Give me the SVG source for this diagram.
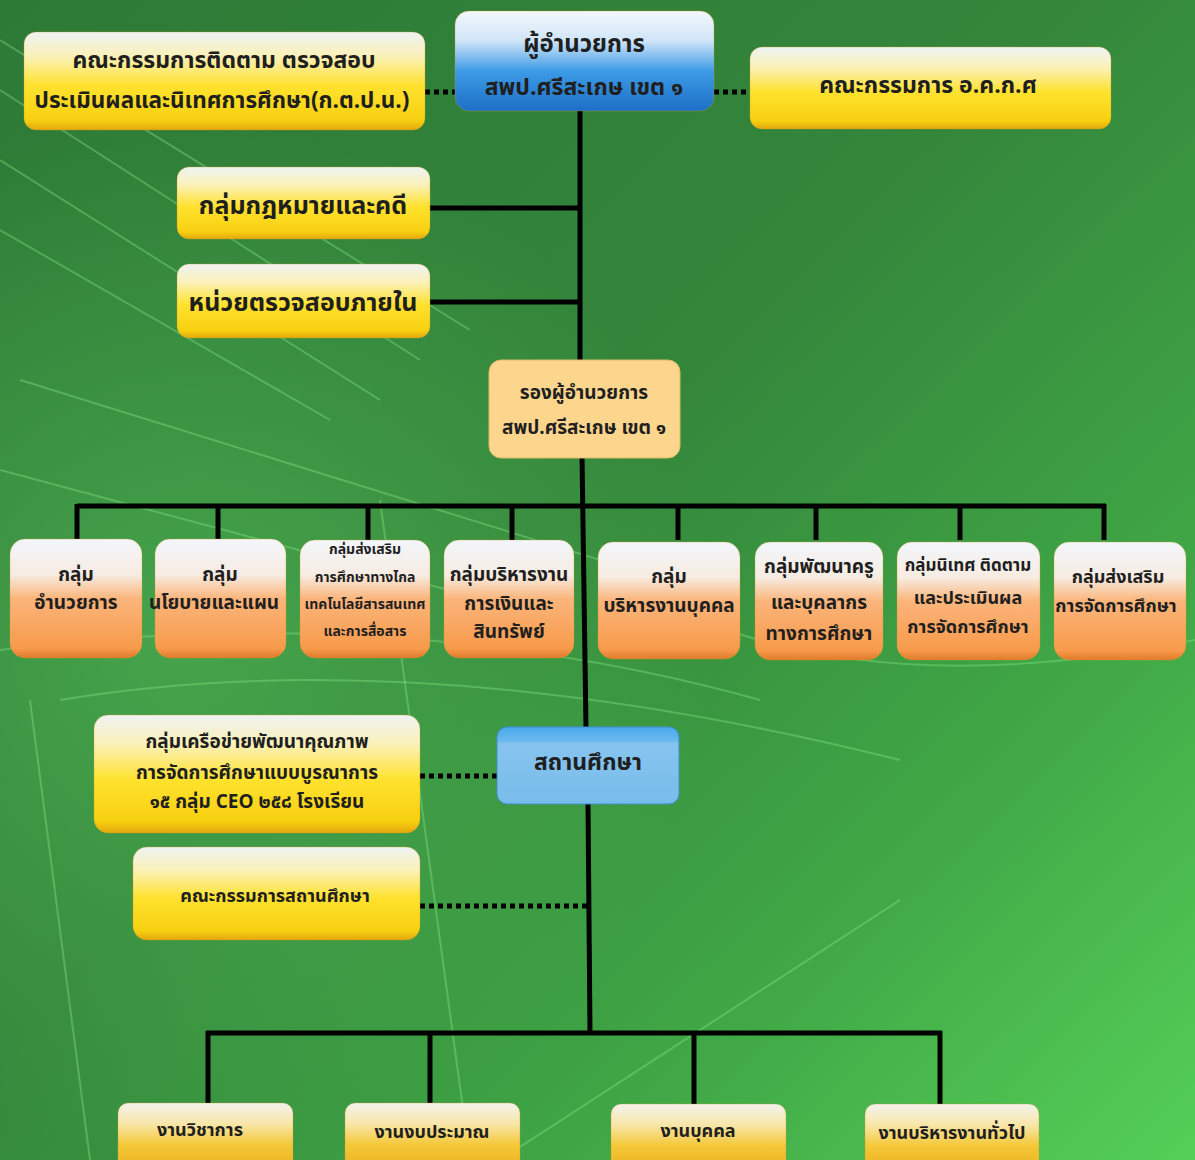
<svg xmlns="http://www.w3.org/2000/svg" width="1195" height="1160" viewBox="0 0 1195 1160">
<defs>
<linearGradient id="bg" x1="0" y1="0" x2="1" y2="1">
<stop offset="0" stop-color="#2d7a36"/>
<stop offset="0.45" stop-color="#34863b"/>
<stop offset="0.75" stop-color="#40a846"/>
<stop offset="1" stop-color="#55cf58"/>
</linearGradient>
<radialGradient id="glow" cx="0.15" cy="0.55" r="0.45">
<stop offset="0" stop-color="#6be06b" stop-opacity="0.35"/>
<stop offset="1" stop-color="#6be06b" stop-opacity="0"/>
</radialGradient>
<linearGradient id="gYellow" x1="0" y1="0" x2="0" y2="1">
<stop offset="0" stop-color="#eef3f4"/>
<stop offset="0.25" stop-color="#fbf1b8"/>
<stop offset="0.55" stop-color="#ffe22e"/>
<stop offset="0.9" stop-color="#f7d010"/>
<stop offset="1" stop-color="#e3a70e"/>
</linearGradient>
<linearGradient id="gBlue" x1="0" y1="0" x2="0" y2="1">
<stop offset="0" stop-color="#f4f8fc"/>
<stop offset="0.3" stop-color="#cfe5f8"/>
<stop offset="0.6" stop-color="#3d9be6"/>
<stop offset="1" stop-color="#1d6fc6"/>
</linearGradient>
<linearGradient id="gOrange" x1="0" y1="0" x2="0" y2="1">
<stop offset="0" stop-color="#f2f6fb"/>
<stop offset="0.3" stop-color="#f7ece2"/>
<stop offset="0.5" stop-color="#fbb57b"/>
<stop offset="0.92" stop-color="#f79a4a"/>
<stop offset="1" stop-color="#e07a2c"/>
</linearGradient>
<linearGradient id="gSchool" x1="0" y1="0" x2="0" y2="1">
<stop offset="0" stop-color="#49a9ec"/>
<stop offset="0.18" stop-color="#6ab8ee"/>
<stop offset="0.22" stop-color="#86c4ef"/>
<stop offset="1" stop-color="#78bce9"/>
</linearGradient>
<linearGradient id="gWork" x1="0" y1="0" x2="0" y2="1">
<stop offset="0" stop-color="#f3f3ee"/>
<stop offset="0.3" stop-color="#f8e6a8"/>
<stop offset="0.6" stop-color="#f4c838"/>
<stop offset="1" stop-color="#e9ac1c"/>
</linearGradient>
<style>
.t{font-family:"Noto Sans Thai","Noto Sans","DejaVu Sans",sans-serif;font-weight:bold;fill:#1f1f1f;text-anchor:middle;dominant-baseline:central}
.box{stroke:#c99a2a;stroke-opacity:0.35;stroke-width:1}
.ln{stroke:#000;stroke-width:5;fill:none}
.dt{stroke:#000;stroke-width:5;fill:none;stroke-dasharray:5 4}
.streak{stroke:#8cf08c;fill:none;stroke-opacity:0.35;stroke-width:2}
</style>
</defs>
<rect x="0" y="0" width="1195" height="1160" fill="url(#bg)"/>
<rect x="0" y="0" width="1195" height="1160" fill="url(#glow)"/>
<g id="background-streaks">
<path class="streak" d="M0 40 L470 330"/>
<path class="streak" d="M0 90 L420 360"/>
<path class="streak" d="M0 160 L380 400"/>
<path class="streak" d="M0 230 L330 420" stroke-width="8" stroke-opacity="0.15"/>
<path class="streak" d="M20 380 L600 560"/>
<path class="streak" d="M0 470 L560 620"/>
<path class="streak" d="M0 650 Q400 600 760 700" stroke-width="6" stroke-opacity="0.25"/>
<path class="streak" d="M60 700 Q420 640 900 760" stroke-width="3"/>
<path class="streak" d="M30 700 L90 1160"/>
<path class="streak" d="M380 500 L470 1160" stroke-opacity="0.2"/>
<path class="streak" d="M500 1160 L900 900" stroke-width="30" stroke-opacity="0.12"/>
<path class="streak" d="M700 620 Q900 700 1195 640" stroke-width="2" stroke-opacity="0.25"/>
</g>
<g id="connectors">
<line class="ln" x1="580" y1="110" x2="580" y2="362"/>
<line class="ln" x1="429" y1="208" x2="580" y2="208"/>
<line class="ln" x1="429" y1="302" x2="580" y2="302"/>
<line class="dt" x1="425" y1="92" x2="455" y2="92"/>
<line class="dt" x1="714" y1="92" x2="750" y2="92"/>
<line class="ln" x1="582" y1="456" x2="586" y2="728"/>
<line class="ln" x1="77" y1="506" x2="1106" y2="506"/>
<line class="ln" x1="77" y1="504" x2="77" y2="540"/>
<line class="ln" x1="218" y1="504" x2="218" y2="540"/>
<line class="ln" x1="368" y1="504" x2="368" y2="540"/>
<line class="ln" x1="512" y1="504" x2="512" y2="540"/>
<line class="ln" x1="678" y1="504" x2="678" y2="540"/>
<line class="ln" x1="816" y1="504" x2="816" y2="540"/>
<line class="ln" x1="960" y1="504" x2="960" y2="540"/>
<line class="ln" x1="1104" y1="504" x2="1104" y2="540"/>
<line class="dt" x1="420" y1="776" x2="497" y2="776"/>
<line class="ln" x1="588" y1="802" x2="590" y2="1034"/>
<line class="dt" x1="420" y1="906" x2="588" y2="906"/>
<line class="ln" x1="206" y1="1033" x2="942" y2="1033"/>
<line class="ln" x1="208" y1="1031" x2="208" y2="1104"/>
<line class="ln" x1="430" y1="1031" x2="430" y2="1104"/>
<line class="ln" x1="694" y1="1031" x2="694" y2="1104"/>
<line class="ln" x1="940" y1="1031" x2="940" y2="1104"/>
</g>
<g id="n-director">
<rect class="box" x="455" y="11" width="259" height="100" rx="14" fill="url(#gBlue)"/>
<text class="t" x="584" y="45" font-size="24">ผู้อำนวยการ</text>
<text class="t" x="584" y="88" font-size="23">สพป.ศรีสะเกษ เขต ๑</text>
</g>
<g id="n-kotopono">
<rect class="box" x="24" y="32" width="401" height="98" rx="12" fill="url(#gYellow)"/>
<text class="t" x="224" y="61" font-size="23">คณะกรรมการติดตาม  ตรวจสอบ</text>
<text class="t" x="222" y="101" font-size="22.5">ประเมินผลและนิเทศการศึกษา(ก.ต.ป.น.)</text>
</g>
<g id="n-okoks">
<rect class="box" x="750" y="47" width="361" height="82" rx="12" fill="url(#gYellow)"/>
<text class="t" x="928" y="86" font-size="23">คณะกรรมการ อ.ค.ก.ศ</text>
</g>
<g id="n-law">
<rect class="box" x="177" y="167" width="253" height="72" rx="12" fill="url(#gYellow)"/>
<text class="t" x="303" y="206" font-size="25">กลุ่มกฎหมายและคดี</text>
</g>
<g id="n-audit">
<rect class="box" x="177" y="264" width="253" height="74" rx="12" fill="url(#gYellow)"/>
<text class="t" x="303" y="303" font-size="25">หน่วยตรวจสอบภายใน</text>
</g>
<g id="n-deputy">
<rect x="489" y="360" width="191" height="98" rx="12" fill="#fdd68e" stroke="#e2b865" stroke-width="1"/>
<text class="t" x="584" y="393" font-size="19">รองผู้อำนวยการ</text>
<text class="t" x="584" y="428" font-size="19">สพป.ศรีสะเกษ  เขต ๑</text>
</g>
<g id="n-g1">
<rect class="box" x="10" y="539" width="132" height="119" rx="15" fill="url(#gOrange)"/>
<text class="t" x="76" y="575" font-size="19">กลุ่ม</text>
<text class="t" x="76" y="603" font-size="19">อำนวยการ</text>
</g>
<g id="n-g2">
<rect class="box" x="155" y="539" width="131" height="119" rx="15" fill="url(#gOrange)"/>
<text class="t" x="220" y="575" font-size="19">กลุ่ม</text>
<text class="t" x="214" y="603" font-size="19">นโยบายและแผน</text>
</g>
<g id="n-g3">
<rect class="box" x="300" y="540" width="130" height="118" rx="15" fill="url(#gOrange)"/>
<text class="t" x="365" y="549" font-size="14">กลุ่มส่งเสริม</text>
<text class="t" x="365" y="577" font-size="14">การศึกษาทางไกล</text>
<text class="t" x="365" y="604" font-size="14">เทคโนโลยีสารสนเทศ</text>
<text class="t" x="365" y="631" font-size="14">และการสื่อสาร</text>
</g>
<g id="n-g4">
<rect class="box" x="444" y="540" width="130" height="118" rx="15" fill="url(#gOrange)"/>
<text class="t" x="509" y="575" font-size="19">กลุ่มบริหารงาน</text>
<text class="t" x="509" y="604" font-size="19">การเงินและ</text>
<text class="t" x="509" y="632" font-size="19">สินทรัพย์</text>
</g>
<g id="n-g5">
<rect class="box" x="598" y="542" width="142" height="117" rx="15" fill="url(#gOrange)"/>
<text class="t" x="669" y="577" font-size="19">กลุ่ม</text>
<text class="t" x="669" y="606" font-size="19">บริหารงานบุคคล</text>
</g>
<g id="n-g6">
<rect class="box" x="755" y="542" width="128" height="118" rx="15" fill="url(#gOrange)"/>
<text class="t" x="819" y="567" font-size="19">กลุ่มพัฒนาครู</text>
<text class="t" x="819" y="603" font-size="19">และบุคลากร</text>
<text class="t" x="819" y="634" font-size="19">ทางการศึกษา</text>
</g>
<g id="n-g7">
<rect class="box" x="897" y="542" width="143" height="118" rx="15" fill="url(#gOrange)"/>
<text class="t" x="968" y="566" font-size="17">กลุ่มนิเทศ ติดตาม</text>
<text class="t" x="968" y="598" font-size="18">และประเมินผล</text>
<text class="t" x="968" y="627" font-size="18">การจัดการศึกษา</text>
</g>
<g id="n-g8">
<rect class="box" x="1054" y="542" width="132" height="118" rx="15" fill="url(#gOrange)"/>
<text class="t" x="1118" y="577" font-size="18">กลุ่มส่งเสริม</text>
<text class="t" x="1116" y="606" font-size="18">การจัดการศึกษา</text>
</g>
<g id="n-network">
<rect class="box" x="94" y="715" width="326" height="118" rx="14" fill="url(#gYellow)"/>
<text class="t" x="257" y="742" font-size="19">กลุ่มเครือข่ายพัฒนาคุณภาพ</text>
<text class="t" x="257" y="773" font-size="19">การจัดการศึกษาแบบบูรณาการ</text>
<text class="t" x="257" y="802" font-size="19">๑๕ กลุ่ม CEO ๒๕๘ โรงเรียน</text>
</g>
<g id="n-school">
<rect x="497" y="727" width="182" height="77" rx="10" fill="url(#gSchool)" stroke="#3f8fd0" stroke-width="1"/>
<text class="t" x="588" y="763" font-size="23" fill="#13294a">สถานศึกษา</text>
</g>
<g id="n-schoolboard">
<rect class="box" x="133" y="847" width="287" height="93" rx="14" fill="url(#gYellow)"/>
<text class="t" x="275" y="896" font-size="18">คณะกรรมการสถานศึกษา</text>
</g>
<g id="n-w1">
<rect class="box" x="118" y="1103" width="175" height="70" rx="10" fill="url(#gWork)"/>
<text class="t" x="200" y="1130" font-size="18">งานวิชาการ</text>
</g>
<g id="n-w2">
<rect class="box" x="345" y="1103" width="175" height="70" rx="10" fill="url(#gWork)"/>
<text class="t" x="432" y="1132" font-size="18">งานงบประมาณ</text>
</g>
<g id="n-w3">
<rect class="box" x="611" y="1104" width="175" height="70" rx="10" fill="url(#gWork)"/>
<text class="t" x="698" y="1131" font-size="18">งานบุคคล</text>
</g>
<g id="n-w4">
<rect class="box" x="865" y="1104" width="174" height="70" rx="10" fill="url(#gWork)"/>
<text class="t" x="952" y="1133" font-size="18">งานบริหารงานทั่วไป</text>
</g>
</svg>
